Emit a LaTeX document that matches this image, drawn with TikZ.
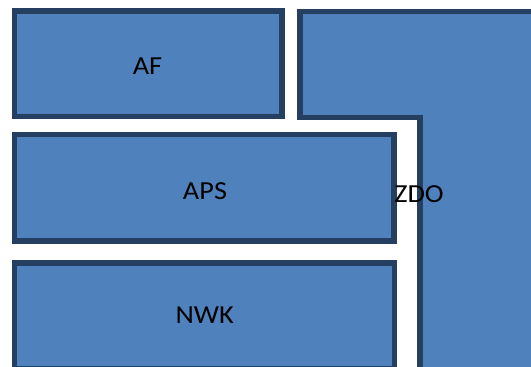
\documentclass[tikz,border=0pt]{standalone}
\usepackage{fontspec}
\setmainfont{Carlito}
\definecolor{boxfill}{HTML}{4F81BD}
\definecolor{boxline}{HTML}{243F60}
\newcommand{\widetxt}[1]{\scalebox{1.09}[1]{#1}}
\begin{document}
\begin{tikzpicture}[x=1pt,y=1pt,
  layerbox/.style={draw=boxline,fill=boxfill,line width=5.5pt,line join=miter},
  layertext/.style={anchor=base,inner sep=0pt,font=\fontsize{26}{30}\selectfont,text=black}]
\useasboundingbox (0,0) rectangle (531,367);
\clip (0,0) rectangle (531,367);
% AF
\draw[layerbox] (14.5,356) rectangle (282,250.5);
% ZDO (L-shape)
\draw[layerbox] (300.2,355.5) -- (540,355.5) -- (540,-8) -- (419.8,-8) -- (419.8,249.5) -- (300.2,249.5) -- cycle;
% APS
\draw[layerbox] (14.5,232.5) rectangle (394.2,126);
% NWK
\draw[layerbox] (14.5,104) rectangle (394.5,-1.5);
\node[layertext] (af) at (147.5,292) {\widetxt{AF}};
\node[layertext] (aps) at (205,167) {\widetxt{APS}};
\node[layertext] (nwk) at (204.7,43.7) {\widetxt{NWK}};
\node[layertext] (zdo) at (419,164.3) {\widetxt{ZDO}};
\end{tikzpicture}
\end{document}
